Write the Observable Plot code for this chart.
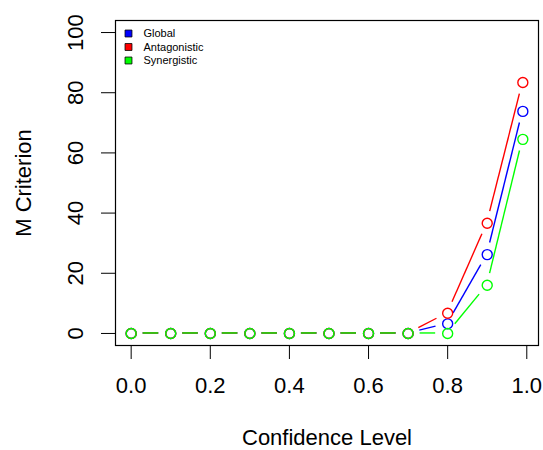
<!DOCTYPE html>
<html>
<head>
<meta charset="utf-8">
<script src="https://cdn.jsdelivr.net/npm/d3@7"></script>
<script src="https://cdn.jsdelivr.net/npm/@observablehq/plot@0.6"></script>
<style>
  html, body { margin: 0; padding: 0; background: #fff; }
  #chart svg { display: block; }
</style>
</head>
<body>
<div id="chart"></div>
<script>
// ---- Data ----
const confidence   = [0, 0.1, 0.2, 0.3, 0.4, 0.5, 0.6, 0.7, 0.8, 0.9, 0.99];
const globalM      = [0, 0, 0, 0, 0, 0, 0, 0, 3.2, 26.2, 73.8];
const antagonistic = [0, 0, 0, 0, 0, 0, 0, 0, 6.7, 36.6, 83.4];
const synergistic  = [0, 0, 0, 0, 0, 0, 0, 0, 0, 16.0, 64.5];
const seriesNames  = ["Global", "Antagonistic", "Synergistic"];
const seriesColors = ["#0000FF", "#FF0000", "#00FF00"];
const xTicks = [0, 0.2, 0.4, 0.6, 0.8, 1.0];
const yTicks = [0, 20, 40, 60, 80, 100];

const seriesValues = [globalM, antagonistic, synergistic];

const W = 543, H = 450;
const mL = 115, mR = 5, mT = 20, mB = 105;
const xDomain = [-0.0396, 1.0296];
const yDomain = [-4, 104];
const GAP = 12;
const font = "'Liberation Sans', Arial, Helvetica, sans-serif";
const fmt1 = d3.format(".1f");

// long-form table for the point marks
const table = [];
seriesValues.forEach((vals, s) => {
  vals.forEach((v, i) => table.push({series: seriesNames[s], x: confidence[i], y: v}));
});

// R type="b": segments between points with a gap around each point
function gappedLines(vals, color) {
  return (index, scales) => {
    const sx = (scales && scales.x) || d3.scaleLinear(xDomain, [mL, W - mR]);
    const sy = (scales && scales.y) || d3.scaleLinear(yDomain, [H - mB, mT]);
    const g = d3.create("svg:g")
      .attr("stroke", color).attr("stroke-width", 1.4).attr("fill", "none");
    for (let i = 0; i < confidence.length - 1; i++) {
      const x1 = sx(confidence[i]), y1 = sy(vals[i]);
      const x2 = sx(confidence[i + 1]), y2 = sy(vals[i + 1]);
      const dx = x2 - x1, dy = y2 - y1, L = Math.hypot(dx, dy);
      if (L <= 2 * GAP) continue;
      const ux = dx / L, uy = dy / L;
      g.append("line")
        .attr("x1", x1 + ux * GAP).attr("y1", y1 + uy * GAP)
        .attr("x2", x2 - ux * GAP).attr("y2", y2 - uy * GAP);
    }
    return g.node();
  };
}

const marks = [];
seriesValues.forEach((vals, s) => {
  marks.push(gappedLines(vals, seriesColors[s]));
  marks.push(Plot.dot(table.filter(d => d.series === seriesNames[s]), {
    x: "x", y: "y", r: 5, stroke: seriesColors[s], strokeWidth: 1.4, fill: "none"
  }));
});

// x tick labels
marks.push(Plot.text(xTicks, {
  x: d => d, text: d => fmt1(d), frameAnchor: "bottom", dy: 40,
  textAnchor: "middle", lineAnchor: "middle", fontSize: 22, fill: "#000"
}));
// y tick labels, rotated like R's default
marks.push(Plot.text(yTicks, {
  y: d => d, text: d => String(d), frameAnchor: "left", dx: -40, rotate: -90,
  textAnchor: "middle", lineAnchor: "middle", fontSize: 22, fill: "#000"
}));

// axis titles
marks.push(Plot.text(["Confidence Level"], {
  frameAnchor: "bottom", dy: 92, textAnchor: "middle", lineAnchor: "middle",
  fontSize: 22, fill: "#000"
}));
marks.push(Plot.text(["M Criterion"], {
  frameAnchor: "left", dx: -92, rotate: -90, textAnchor: "middle", lineAnchor: "middle",
  fontSize: 22, fill: "#000"
}));

// legend
seriesNames.forEach((name, i) => {
  marks.push(Plot.dot([name], {
    frameAnchor: "top-left", dx: 13, dy: 13 + i * 13.5, symbol: "square", r: 3.9,
    fill: seriesColors[i], stroke: "#000", strokeWidth: 0.8
  }));
  marks.push(Plot.text([name], {
    frameAnchor: "top-left", dx: 28, dy: 13 + i * 13.5, textAnchor: "start", lineAnchor: "middle",
    fontSize: 11, fill: "#000"
  }));
});

marks.push(Plot.frame({stroke: "#000", strokeWidth: 1.2}));

const chart = Plot.plot({
  width: W, height: H,
  marginLeft: mL, marginRight: mR, marginTop: mT, marginBottom: mB,
  style: {fontFamily: font, fontSize: "22px", background: "#fff", color: "#000"},
  x: {domain: xDomain, ticks: xTicks, tickFormat: () => "", tickSize: 14, tickPadding: 0, label: null},
  y: {domain: yDomain, ticks: yTicks, tickFormat: () => "", tickSize: 14, tickPadding: 0, label: null},
  marks
});
document.getElementById("chart").appendChild(chart);
</script>
</body>
</html>
